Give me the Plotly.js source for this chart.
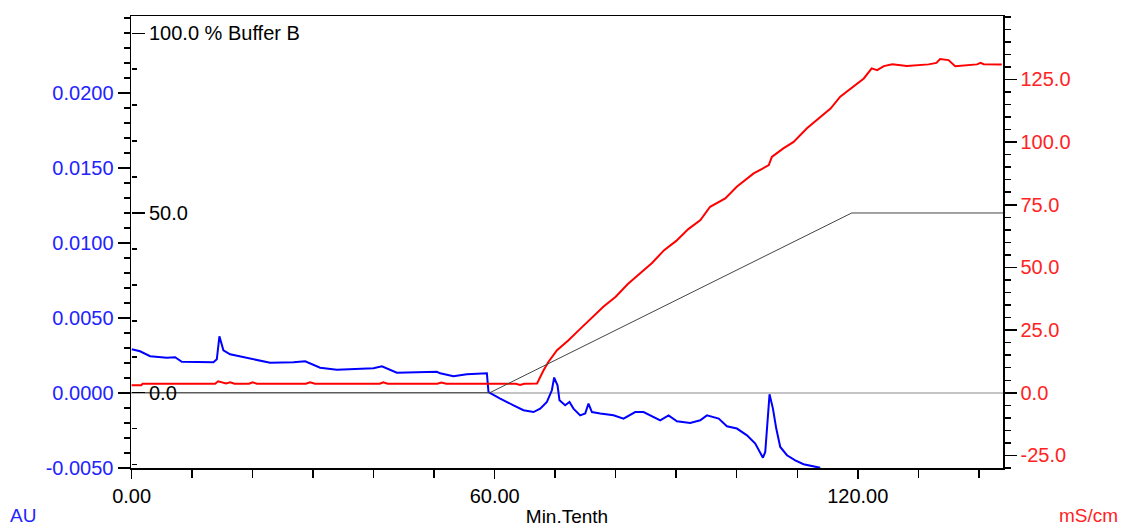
<!DOCTYPE html>
<html>
<head>
<meta charset="utf-8">
<script src="https://cdn.plot.ly/plotly-3.0.1.min.js"></script>
<style>html,body{margin:0;padding:0;background:#fff;}#chart{width:1121px;height:527px;}</style>
</head>
<body>
<div id="chart"></div>
<script>
// Time axis (Min.Tenth)
const xTickVals = [0, 60, 120];
const xTickText = ["0.00", "60.00", "120.00"];

// Left axis (AU) tick labels
const auTickVals = [-0.005, 0, 0.005, 0.01, 0.015, 0.02];
const auTickText = ["-0.0050", "0.0000", "0.0050", "0.0100", "0.0150", "0.0200"];

// Right axis (mS/cm) tick labels
const msTickVals = [-25, 0, 25, 50, 75, 100, 125];
const msTickText = ["-25.0", "0.0", "25.0", "50.0", "75.0", "100.0", "125.0"];

// UV absorbance (AU) - blue
const uvTime = [0.03, 1.40, 3.06, 5.82, 7.19, 8.30, 13.52, 14.08, 14.51, 15.17, 16.28, 20.13, 22.89, 26.74, 28.68, 31.16, 33.92, 39.97, 41.36, 43.83, 50.45, 50.99, 53.19, 55.40, 58.71, 58.98, 59.80, 60.91, 63.11, 64.76, 66.41, 67.52, 68.63, 69.45, 69.83, 70.38, 70.71, 71.65, 72.36, 73.02, 74.13, 74.96, 75.50, 76.07, 77.44, 79.64, 81.29, 83.22, 84.60, 85.70, 87.36, 88.73, 90.12, 92.31, 93.97, 95.07, 97.02, 98.38, 100.03, 101.69, 103.06, 104.33, 104.71, 105.42, 105.98, 106.53, 107.19, 108.30, 109.67, 111.04, 112.69, 113.80];
const uvAU = [0.00291, 0.00278, 0.00245, 0.00235, 0.00238, 0.00208, 0.00205, 0.00225, 0.00378, 0.00285, 0.00258, 0.00225, 0.00201, 0.00205, 0.00211, 0.00168, 0.00155, 0.00165, 0.00178, 0.00135, 0.00141, 0.00131, 0.00111, 0.00125, 0.00131, 0.00005, -0.00015, -0.00037, -0.00082, -0.00115, -0.00127, -0.00104, -0.00060, 0.00018, 0.00103, 0.00051, -0.00049, -0.00082, -0.00060, -0.00104, -0.00149, -0.00137, -0.00071, -0.00127, -0.00137, -0.00149, -0.00171, -0.00127, -0.00127, -0.00149, -0.00182, -0.00149, -0.00189, -0.00200, -0.00182, -0.00149, -0.00171, -0.00222, -0.00237, -0.00282, -0.00337, -0.00431, -0.00393, -0.00009, -0.00104, -0.00237, -0.00360, -0.00415, -0.00449, -0.00475, -0.00489, -0.00499];

// Conductivity (mS/cm) - red
const condTime = [0, 1.6, 1.8, 13.8, 14.3, 15.0, 15.6, 16.3, 17.0, 19.4, 20.0, 20.7, 28.8, 29.5, 30.3, 41.0, 41.6, 42.3, 50.5, 51.2, 52.0, 63.5, 64.2, 64.9, 66.3, 67.0, 68.1, 68.9, 70.3, 72.2, 74.0, 76.0, 78.0, 80.0, 82.0, 84.0, 86.0, 88.0, 90.0, 92.0, 94.0, 95.6, 98.1, 100.0, 102.8, 105.3, 105.8, 107.7, 109.4, 111.6, 113.5, 115.5, 117.1, 118.5, 121.0, 122.3, 123.2, 124.3, 125.7, 128.1, 131.7, 133.0, 133.6, 135.0, 136.1, 139.7, 140.3, 140.8, 143.8];
const condMS = [3.0, 3.0, 3.6, 3.6, 4.6, 4.2, 3.7, 4.2, 3.6, 3.6, 4.2, 3.6, 3.6, 4.2, 3.6, 3.6, 4.2, 3.6, 3.6, 4.1, 3.6, 3.6, 3.1, 3.6, 3.6, 3.7, 9.1, 12.4, 17.0, 21.0, 25.2, 29.6, 34.4, 38.3, 43.4, 47.6, 51.8, 56.9, 60.6, 65.3, 68.9, 74.2, 77.5, 82.2, 87.5, 90.8, 94.1, 97.5, 100.1, 105.5, 109.5, 113.4, 118.1, 120.7, 125.4, 129.4, 128.7, 130.3, 131.0, 130.4, 131.0, 131.6, 133.1, 132.7, 130.3, 131.0, 131.6, 131.1, 131.0];

// Buffer B gradient (%)
const bufTime = [0, 59.2, 119.0, 144];
const bufPct = [0, 0, 50, 50];
const bufTickVals = [0, 50, 100];
const bufTickText = ["0.0", "50.0", "100.0 % Buffer B"];

const FONT = "Liberation Sans, Arial, sans-serif";
const BLUE = "#2323ff";
const RED = "#ff2323";

const traces = [
  {x: uvTime, y: uvAU, type: "scatter", mode: "lines", yaxis: "y",
   line: {color: "#0000ff", width: 2}, hoverinfo: "skip"},
  {x: condTime, y: condMS, type: "scatter", mode: "lines", yaxis: "y2",
   line: {color: "#ff0000", width: 2}, hoverinfo: "skip"},
  {x: bufTime, y: bufPct, type: "scatter", mode: "lines", yaxis: "y3",
   line: {color: "#444444", width: 1}, hoverinfo: "skip"}
];

const layout = {
  width: 1121, height: 527,
  margin: {l: 131, r: 118, t: 16, b: 59, pad: 0},
  paper_bgcolor: "#ffffff", plot_bgcolor: "#ffffff",
  showlegend: false,
  font: {family: FONT, size: 20, color: "#000"},
  xaxis: {
    range: [-0.1, 144], tickmode: "array", tickvals: xTickVals, ticktext: xTickText,
    ticks: "outside", ticklen: 9, tickwidth: 1.5, tickcolor: "#000",
    minor: {tickmode: "linear", tick0: 0, dtick: 10, ticks: "outside", ticklen: 8, tickwidth: 1.5, tickcolor: "#000"},
    showline: true, linecolor: "#000", linewidth: 1.5, mirror: true,
    showgrid: false, zeroline: false,
    tickfont: {family: FONT, size: 20, color: "#000"},
    title: {text: "Min.Tenth", font: {family: FONT, size: 19, color: "#000"}, standoff: 4}
  },
  yaxis: {
    range: [-0.005, 0.02513], tickmode: "array", tickvals: auTickVals, ticktext: auTickText,
    ticks: "outside", ticklen: 12, tickwidth: 1.5, tickcolor: "#000",
    minor: {tickmode: "linear", tick0: 0, dtick: 0.001, ticks: "outside", ticklen: 6, tickwidth: 1.5, tickcolor: "#000"},
    showline: true, linecolor: "#000", linewidth: 1.5,
    showgrid: false, zeroline: true, zerolinecolor: "#c4c4c4", zerolinewidth: 1.5,
    tickfont: {family: FONT, size: 20, color: BLUE}
  },
  yaxis2: {
    overlaying: "y", side: "right", anchor: "x",
    range: [-30, 150.3], tickmode: "array", tickvals: msTickVals, ticktext: msTickText,
    ticks: "outside", ticklen: 12, tickwidth: 1.5, tickcolor: "#000",
    minor: {tickmode: "linear", tick0: 0, dtick: 5, ticks: "outside", ticklen: 6, tickwidth: 1.5, tickcolor: "#000"},
    showline: true, linecolor: "#000", linewidth: 1.5,
    showgrid: false, zeroline: false,
    tickfont: {family: FONT, size: 20, color: RED}
  },
  yaxis3: {
    overlaying: "y", side: "right", anchor: "free", position: 0,
    range: [-20.95, 104.8], tickmode: "array", tickvals: bufTickVals, ticktext: bufTickText,
    ticks: "outside", ticklen: 13, tickwidth: 1.5, tickcolor: "#000",
    ticklabelstandoff: 0,
    minor: {tickmode: "linear", tick0: 0, dtick: 10, ticks: "outside", ticklen: 5, tickwidth: 1.5, tickcolor: "#000"},
    showline: false, showgrid: false, zeroline: false,
    tickfont: {family: FONT, size: 20, color: "#000"}
  },
  annotations: [
    {text: "AU", xref: "paper", yref: "paper", x: -0.1234, y: -0.105, xanchor: "center", yanchor: "middle",
     showarrow: false, font: {family: FONT, size: 19, color: BLUE}},
    {text: "mS/cm", xref: "paper", yref: "paper", x: 1.0977, y: -0.105, xanchor: "center", yanchor: "middle",
     showarrow: false, font: {family: FONT, size: 19, color: RED}}
  ]
};

Plotly.newPlot("chart", traces, layout, {staticPlot: true, displayModeBar: false});
</script>
</body>
</html>
